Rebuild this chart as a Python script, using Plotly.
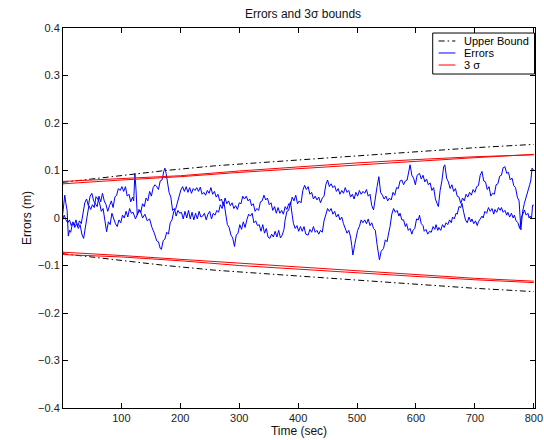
import plotly.graph_objects as go

# ---------------- data ----------------
# time stamps (s) and position errors (m) for the two error runs
err1_t = [0, 3, 6, 9, 12, 15, 18, 21, 24, 27, 30, 33, 36, 39, 42, 45, 48, 51, 54, 57,
          60, 63, 66, 69, 72, 75, 78, 81, 84, 87, 90, 93, 96, 99, 102, 105, 108, 111, 114, 117,
          120, 124, 128, 132, 136, 140, 144, 148, 152, 156, 160, 163, 166, 168, 171, 174, 177, 180, 183, 186,
          189, 192, 195, 198, 201, 204, 207, 210, 213, 216, 219, 222, 225, 228, 231, 234, 237, 240, 243, 246,
          249, 252, 255, 258, 261, 264, 267, 270, 273, 276, 279, 282, 285, 288, 291, 294, 297, 300, 303, 306,
          309, 312, 315, 318, 321, 324, 327, 330, 333, 336, 339, 342, 345, 348, 351, 354, 357, 360, 363, 366,
          369, 372, 375, 378, 381, 384, 387, 390, 393, 396, 399, 402, 405, 408, 411, 414, 417, 420, 423, 426,
          429, 432, 435, 438, 441, 444, 447, 450, 453, 456, 459, 462, 465, 468, 471, 474, 477, 480, 483, 486,
          489, 492, 495, 498, 501, 504, 507, 510, 513, 516, 519, 522, 525, 528, 531, 534, 537, 540, 543, 546,
          549, 552, 555, 558, 561, 564, 567, 570, 573, 576, 579, 582, 585, 588, 590, 593, 596, 599, 602, 606,
          609, 612, 615, 618, 621, 624, 627, 630, 633, 636, 638, 641, 644, 647, 649, 652, 655, 658, 661, 664,
          667, 670, 673, 676, 679, 682, 685, 688, 691, 694, 697, 700, 703, 706, 709, 712, 715, 718, 721, 724,
          727, 730, 733, 736, 739, 742, 745, 748, 751, 754, 757, 760, 763, 766, 769, 772, 775, 778, 781, 784,
          787, 790, 793, 795, 797, 800]
err1_v = [-0.005, 0.006, -0.004, -0.010, -0.004, -0.016, -0.008, -0.020, -0.012, -0.022,
          -0.014, -0.034, -0.043, -0.016, 0.004, 0.026, 0.018, 0.028, 0.022, 0.045,
          0.040, 0.032, 0.014, 0.020, -0.002, -0.029, -0.008, -0.014, 0.010, -0.004,
          -0.012, -0.018, -0.004, -0.010, 0.006, 0.000, 0.014, 0.002, 0.020, 0.010,
          0.012, -0.002, 0.010, 0.016, 0.000, 0.008, -0.006, -0.002, -0.020, -0.032,
          -0.048, -0.050, -0.064, -0.066, -0.048, -0.044, -0.030, -0.034, -0.010, -0.004,
          0.014, 0.018, 0.034, 0.044, 0.059, 0.066, 0.056, 0.066, 0.054, 0.064,
          0.052, 0.062, 0.058, 0.064, 0.056, 0.065, 0.050, 0.054, 0.048, 0.058,
          0.052, 0.064, 0.050, 0.056, 0.044, 0.050, 0.036, 0.040, 0.026, 0.042,
          0.030, 0.036, 0.026, 0.032, 0.020, 0.026, 0.018, 0.032, 0.030, 0.046,
          0.040, 0.046, 0.036, 0.040, 0.026, 0.030, 0.014, 0.020, 0.016, 0.034,
          0.036, 0.048, 0.038, 0.042, 0.028, 0.032, 0.016, 0.024, 0.010, 0.022,
          0.010, 0.016, 0.008, 0.024, 0.018, 0.030, 0.028, 0.044, 0.036, 0.048,
          0.030, 0.036, 0.032, 0.058, 0.069, 0.060, 0.066, 0.050, 0.054, 0.040,
          0.046, 0.038, 0.044, 0.032, 0.042, 0.046, 0.070, 0.080, 0.066, 0.072,
          0.064, 0.068, 0.056, 0.062, 0.050, 0.058, 0.052, 0.064, 0.054, 0.058,
          0.044, 0.050, 0.040, 0.054, 0.046, 0.058, 0.050, 0.056, 0.052, 0.060,
          0.046, 0.050, 0.026, 0.017, 0.046, 0.066, 0.087, 0.054, 0.048, 0.040,
          0.046, 0.036, 0.042, 0.038, 0.054, 0.048, 0.064, 0.062, 0.078, 0.080,
          0.070, 0.078, 0.080, 0.104, 0.112, 0.090, 0.084, 0.070, 0.090, 0.094,
          0.082, 0.090, 0.076, 0.082, 0.070, 0.074, 0.058, 0.064, 0.040, 0.030,
          0.024, 0.058, 0.078, 0.108, 0.112, 0.084, 0.076, 0.062, 0.070, 0.056,
          0.062, 0.046, 0.044, 0.031, 0.042, 0.036, 0.050, 0.044, 0.054, 0.048,
          0.060, 0.054, 0.066, 0.068, 0.090, 0.098, 0.078, 0.076, 0.060, 0.066,
          0.046, 0.052, 0.050, 0.070, 0.072, 0.088, 0.090, 0.106, 0.108, 0.094,
          0.096, 0.080, 0.084, 0.068, 0.064, 0.044, 0.036, -0.025, 0.014, 0.031,
          0.044, 0.052, 0.070, 0.080, 0.105, 0.100]

err2_t = [0, 2, 4, 6, 8, 10, 12, 14, 17, 20, 23, 26, 29, 32, 35, 38, 41, 44, 47, 50,
          53, 56, 59, 62, 65, 68, 71, 74, 77, 80, 83, 86, 89, 92, 95, 98, 101, 104, 107, 110,
          113, 116, 119, 121, 123, 125, 127, 130, 133, 136, 139, 142, 145, 148, 151, 154, 157, 160, 163, 166,
          169, 172, 174, 176, 178, 181, 184, 187, 190, 193, 196, 199, 202, 205, 208, 211, 214, 217, 220, 223,
          226, 229, 232, 235, 238, 241, 244, 247, 250, 253, 256, 259, 262, 265, 268, 271, 274, 277, 280, 283,
          286, 289, 292, 295, 298, 301, 304, 307, 310, 313, 316, 319, 322, 325, 328, 331, 334, 337, 340, 343,
          346, 349, 352, 355, 358, 361, 364, 367, 370, 373, 376, 378, 381, 384, 387, 390, 392, 395, 398, 401,
          404, 407, 410, 413, 417, 420, 423, 426, 429, 432, 435, 438, 441, 444, 447, 450, 453, 456, 459, 462,
          465, 468, 471, 474, 477, 480, 483, 486, 489, 491, 493, 496, 498, 501, 504, 507, 510, 513, 516, 519,
          522, 525, 528, 531, 534, 536, 538, 541, 545, 548, 551, 553, 556, 559, 562, 565, 568, 571, 573, 576,
          579, 582, 584, 587, 590, 593, 595, 598, 601, 604, 606, 609, 612, 614, 617, 620, 623, 626, 629, 632,
          634, 637, 639, 642, 645, 648, 651, 654, 657, 660, 662, 665, 668, 670, 673, 676, 678, 681, 684, 687,
          690, 693, 695, 698, 701, 704, 706, 709, 712, 714, 717, 720, 723, 726, 729, 732, 734, 737, 740, 743,
          745, 748, 751, 754, 756, 759, 762, 765, 767, 770, 773, 776, 779, 782, 784, 787, 790, 792, 794, 796,
          798, 800]
err2_v = [0.003, 0.028, 0.048, 0.030, 0.016, -0.038, -0.026, -0.030, -0.012, -0.016,
          -0.004, -0.018, -0.006, -0.012, 0.014, 0.032, 0.040, 0.026, 0.046, 0.052,
          0.036, 0.030, 0.024, 0.046, 0.034, 0.052, 0.036, 0.028, 0.014, 0.026,
          0.036, 0.022, 0.044, 0.048, 0.062, 0.058, 0.066, 0.056, 0.066, 0.046,
          0.050, 0.034, 0.044, 0.036, 0.094, 0.058, 0.006, 0.018, 0.012, 0.030,
          0.024, 0.042, 0.036, 0.056, 0.046, 0.064, 0.070, 0.066, 0.060, 0.078,
          0.080, 0.098, 0.105, 0.094, 0.080, 0.054, 0.044, 0.016, 0.020, 0.004,
          0.016, 0.010, 0.012, -0.002, 0.014, 0.000, 0.016, -0.002, 0.012, -0.004,
          0.010, -0.002, 0.014, 0.002, 0.004, 0.010, -0.004, 0.008, 0.014, -0.002,
          0.010, 0.006, 0.016, 0.012, 0.028, 0.020, 0.034, 0.006, -0.014, -0.020,
          -0.036, -0.042, -0.060, -0.036, -0.032, -0.014, -0.024, -0.008, -0.020, -0.004,
          0.008, 0.004, 0.010, -0.010, -0.006, -0.016, -0.014, -0.028, -0.014, -0.032,
          -0.022, -0.040, -0.043, -0.034, -0.040, -0.028, -0.040, -0.026, -0.042, -0.036,
          -0.024, -0.004, 0.014, 0.016, 0.034, 0.006, -0.011, -0.022, -0.016, -0.028,
          -0.018, -0.028, -0.018, -0.034, -0.036, -0.024, -0.030, -0.018, -0.030, -0.026,
          -0.034, -0.026, -0.030, -0.006, 0.008, 0.020, 0.014, 0.020, 0.008, 0.014,
          0.002, 0.008, -0.004, 0.002, -0.012, -0.022, -0.032, -0.026, -0.040, -0.058,
          -0.078, -0.056, -0.046, -0.026, -0.018, -0.004, -0.010, -0.004, -0.012, -0.002,
          -0.016, -0.010, -0.022, -0.026, -0.056, -0.072, -0.088, -0.070, -0.064, -0.046,
          -0.050, -0.036, -0.018, 0.008, 0.020, 0.012, 0.016, 0.004, 0.010, -0.004,
          -0.004, -0.018, -0.012, -0.026, -0.022, -0.034, -0.026, -0.022, -0.002, -0.004,
          0.006, -0.012, -0.016, -0.028, -0.024, -0.034, -0.028, -0.030, -0.018, -0.024,
          -0.014, -0.026, -0.020, -0.026, -0.014, -0.020, -0.010, -0.014, -0.004, -0.010,
          0.002, -0.002, 0.010, 0.008, 0.024, 0.022, 0.031, 0.012, -0.004, -0.010,
          0.002, -0.008, -0.002, -0.012, -0.006, -0.016, -0.008, -0.002, 0.004, 0.000,
          0.014, 0.010, 0.022, 0.014, 0.020, 0.008, 0.018, 0.012, 0.022, 0.016,
          0.022, 0.012, 0.016, 0.006, 0.012, 0.002, 0.010, 0.000, 0.006, -0.006,
          -0.010, -0.022, 0.002, 0.010, 0.017, 0.006, 0.010, 0.000, 0.004, -0.002,
          0.027, 0.027]

# bound on the error (m)
bound_t = [0, 100, 175, 260, 362, 480, 600, 700, 800]
bound_upper = [0.075, 0.090, 0.100, 0.110, 0.119, 0.130, 0.140, 0.148, 0.155]
bound_lower = [-0.075, -0.090, -0.100, -0.110, -0.119, -0.130, -0.140, -0.148, -0.155]

# 3-sigma envelopes of the two runs (m)
sig_t = [0, 1, 100, 200, 300, 400, 500, 600, 700, 800]
sig1_upper = [0.068, 0.072, 0.080, 0.087, 0.096, 0.104, 0.111, 0.119, 0.127, 0.134]
sig2_upper = [0.078, 0.077, 0.083, 0.089, 0.099, 0.108, 0.116, 0.123, 0.129, 0.133]
sig1_lower = [-0.068, -0.072, -0.079, -0.087, -0.096, -0.104, -0.112, -0.120, -0.127, -0.133]
sig2_lower = [-0.078, -0.077, -0.082, -0.090, -0.100, -0.108, -0.116, -0.123, -0.130, -0.136]

x_ticks = [100, 200, 300, 400, 500, 600, 700, 800]
y_ticks = [-0.4, -0.3, -0.2, -0.1, 0, 0.1, 0.2, 0.3, 0.4]
y_ticktext = ["\u22120.4", "\u22120.3", "\u22120.2", "\u22120.1", "0", "0.1", "0.2", "0.3", "0.4"]

# ---------------- figure ----------------
FONT = "Liberation Sans, Arial, Helvetica, sans-serif"
BLACK_DASH = "6px,3px,1.5px,3px"

fig = go.Figure()

fig.add_trace(go.Scatter(x=bound_t, y=bound_upper, mode="lines",
                         line=dict(color="black", width=1, dash=BLACK_DASH)))
fig.add_trace(go.Scatter(x=bound_t, y=bound_lower, mode="lines",
                         line=dict(color="black", width=1, dash=BLACK_DASH)))
fig.add_trace(go.Scatter(x=err1_t, y=err1_v, mode="lines",
                         line=dict(color="#0000ff", width=1)))
fig.add_trace(go.Scatter(x=err2_t, y=err2_v, mode="lines",
                         line=dict(color="#0000ff", width=1)))
for ys in (sig1_upper, sig2_upper, sig1_lower, sig2_lower):
    fig.add_trace(go.Scatter(x=sig_t, y=ys, mode="lines",
                             line=dict(color="#ff0000", width=1)))

axis_common = dict(showline=True, linecolor="black", linewidth=1, mirror="ticks",
                   ticks="inside", ticklen=5, tickcolor="black", tickwidth=1,
                   showgrid=False, zeroline=False,
                   tickfont=dict(family=FONT, size=11, color="#222"))

fig.update_xaxes(range=[1, 802], tickvals=x_ticks, ticklabeloverflow="allow",
                 title=dict(text="Time (sec)", font=dict(family=FONT, size=12, color="#111"),
                            standoff=2),
                 **axis_common)
fig.update_yaxes(range=[-0.4, 0.4], tickvals=y_ticks, ticktext=y_ticktext,
                 title=dict(text="Errors (m)", font=dict(family=FONT, size=12, color="#111"),
                            standoff=3),
                 **axis_common)

# legend box drawn in paper coordinates
legend_items = [("Upper Bound", "black", BLACK_DASH, 0.9658),
                ("Errors", "#0000ff", "solid", 0.9342),
                ("3 \u03c3", "#ff0000", "solid", 0.9026)]
shapes = [dict(type="rect", xref="paper", yref="paper", x0=0.7833, x1=0.999,
               y0=0.8789, y1=0.9868, line=dict(color="black", width=1),
               fillcolor="white", layer="above")]
annotations = []
for label, color, dash, yy in legend_items:
    shapes.append(dict(type="line", xref="paper", yref="paper", x0=0.7958, x1=0.8313,
                       y0=yy, y1=yy, line=dict(color=color, width=1, dash=dash),
                       layer="above"))
    annotations.append(dict(text=label, xref="paper", yref="paper", x=0.8458, y=yy,
                            xanchor="left", yanchor="middle", showarrow=False,
                            font=dict(family=FONT, size=11, color="black")))

fig.update_layout(
    width=544, height=440,
    margin=dict(l=63, r=1, t=28, b=32),
    paper_bgcolor="white", plot_bgcolor="white",
    showlegend=False,
    title=dict(text="Errors and 3\u03c3 bounds", x=0.557, xanchor="center",
               y=0.968, yanchor="middle", font=dict(family=FONT, size=12, color="#111")),
    shapes=shapes, annotations=annotations,
)

fig.write_html("out.html")
